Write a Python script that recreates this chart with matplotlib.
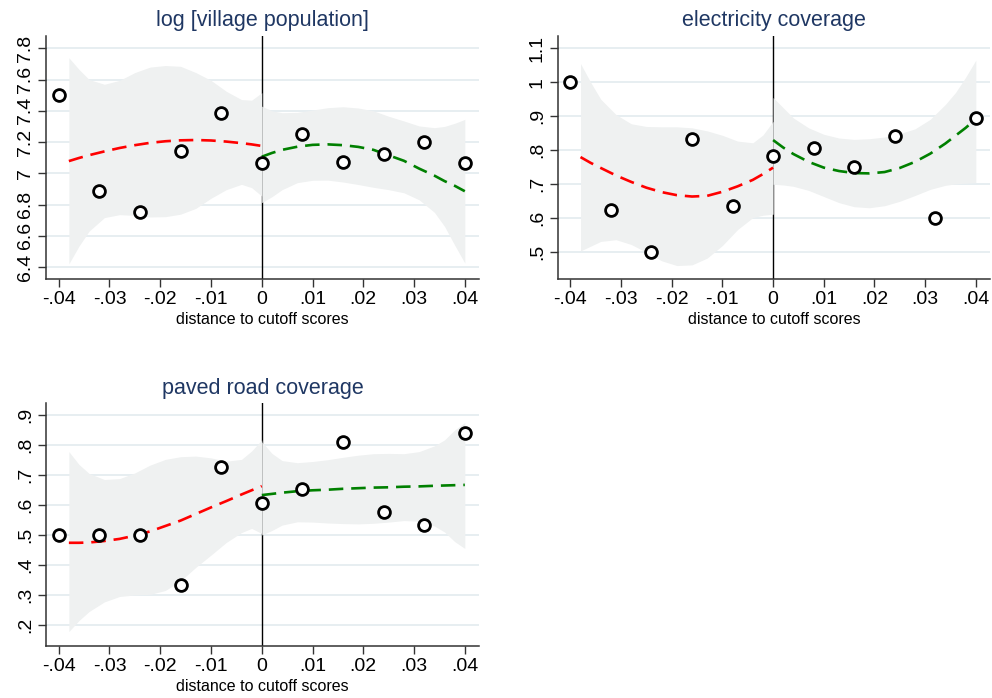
import matplotlib
matplotlib.use("Agg")
import matplotlib.pyplot as plt

plt.rcParams['font.family'] = ['Liberation Sans', 'DejaVu Sans']

# binned means
x_bins = [-0.04, -0.032, -0.024, -0.016, -0.008, 0.0, 0.008, 0.016, 0.024, 0.032, 0.04]
pop_means = [7.50, 6.887, 6.752, 7.145, 7.386, 7.064, 7.253, 7.074, 7.125, 7.198, 7.064]
elec_means = [1.0, 0.625, 0.5, 0.833, 0.637, 0.782, 0.808, 0.75, 0.842, 0.6, 0.895]
road_means = [0.5, 0.5, 0.5, 0.333, 0.726, 0.608, 0.653, 0.811, 0.578, 0.532, 0.841]

# x positions of fitted curves / bands (left and right of cutoff)
xl = [-0.038, -0.036, -0.034, -0.031, -0.028, -0.025, -0.022, -0.019, -0.016,
      -0.013, -0.010, -0.007, -0.004, -0.002, 0.0]
xr = [0.0, 0.002, 0.004, 0.007, 0.010, 0.013, 0.016, 0.019, 0.022, 0.025,
      0.028, 0.031, 0.034, 0.036, 0.038, 0.040]

# log village population
pop_fit_l = [7.078, 7.098, 7.116, 7.14, 7.162, 7.18, 7.195, 7.205, 7.211, 7.213, 7.21, 7.203, 7.193, 7.185, 7.175]
pop_hi_l = [7.74, 7.665, 7.60, 7.57, 7.595, 7.645, 7.68, 7.69, 7.685, 7.645, 7.595, 7.525, 7.472, 7.468, 7.516]
pop_lo_l = [6.42, 6.534, 6.63, 6.716, 6.735, 6.73, 6.72, 6.722, 6.738, 6.775, 6.84, 6.895, 6.929, 6.908, 6.854]
pop_fit_r = [7.106, 7.13, 7.15, 7.17, 7.182, 7.185, 7.18, 7.169, 7.15, 7.115, 7.08, 7.03, 6.985, 6.95, 6.92, 6.885]
pop_hi_r = [7.43, 7.40, 7.388, 7.39, 7.405, 7.42, 7.426, 7.418, 7.40, 7.365, 7.335, 7.303, 7.292, 7.30, 7.32, 7.345]
pop_lo_r = [6.812, 6.85, 6.895, 6.94, 6.955, 6.956, 6.944, 6.928, 6.91, 6.895, 6.875, 6.83, 6.75, 6.66, 6.54, 6.425]

# electricity coverage
elec_fit_l = [0.78, 0.763, 0.748, 0.726, 0.707, 0.69, 0.677, 0.668, 0.664, 0.666, 0.678, 0.694, 0.713, 0.73, 0.749]
elec_hi_l = [1.055, 1.00, 0.95, 0.905, 0.878, 0.87, 0.869, 0.869, 0.866, 0.857, 0.844, 0.827, 0.822, 0.845, 0.885]
elec_lo_l = [0.504, 0.518, 0.532, 0.537, 0.523, 0.50, 0.475, 0.461, 0.463, 0.483, 0.52, 0.567, 0.602, 0.609, 0.612]
elec_fit_r = [0.83, 0.808, 0.789, 0.766, 0.749, 0.739, 0.733, 0.732, 0.736, 0.748, 0.766, 0.79, 0.82, 0.843, 0.866, 0.892]
elec_hi_r = [0.955, 0.925, 0.895, 0.866, 0.847, 0.836, 0.832, 0.834, 0.839, 0.849, 0.863, 0.891, 0.935, 0.97, 1.015, 1.065]
elec_lo_r = [0.70, 0.698, 0.694, 0.682, 0.664, 0.646, 0.634, 0.631, 0.637, 0.65, 0.667, 0.685, 0.697, 0.701, 0.703, 0.705]

# paved road coverage
road_fit_l = [0.474, 0.474, 0.475, 0.48, 0.487, 0.498, 0.512, 0.53, 0.548, 0.57, 0.592, 0.613, 0.635, 0.649, 0.663]
road_hi_l = [0.778, 0.735, 0.705, 0.685, 0.688, 0.707, 0.733, 0.752, 0.761, 0.763, 0.757, 0.746, 0.752, 0.78, 0.817]
road_lo_l = [0.178, 0.215, 0.245, 0.277, 0.295, 0.30, 0.302, 0.315, 0.347, 0.392, 0.433, 0.475, 0.508, 0.522, 0.505]
road_fit_r = [0.633, 0.637, 0.641, 0.646, 0.649, 0.651, 0.654, 0.656, 0.658, 0.659, 0.661, 0.662, 0.664, 0.665, 0.666, 0.667]
road_hi_r = [0.811, 0.772, 0.748, 0.741, 0.745, 0.751, 0.759, 0.766, 0.771, 0.772, 0.771, 0.778, 0.797, 0.817, 0.85, 0.875]
road_lo_r = [0.50, 0.515, 0.533, 0.544, 0.543, 0.54, 0.538, 0.537, 0.539, 0.543, 0.548, 0.546, 0.53, 0.51, 0.478, 0.455]

x_ticks = [-0.04, -0.03, -0.02, -0.01, 0.0, 0.01, 0.02, 0.03, 0.04]
x_ticklabels = ['-.04', '-.03', '-.02', '-.01', '0', '.01', '.02', '.03', '.04']

pop_ticks = [6.4, 6.6, 6.8, 7.0, 7.2, 7.4, 7.6, 7.8]
pop_ticklabels = ['6.4', '6.6', '6.8', '7', '7.2', '7.4', '7.6', '7.8']
elec_ticks = [0.5, 0.6, 0.7, 0.8, 0.9, 1.0, 1.1]
elec_ticklabels = ['.5', '.6', '.7', '.8', '.9', '1', '1.1']
road_ticks = [0.2, 0.3, 0.4, 0.5, 0.6, 0.7, 0.8, 0.9]
road_ticklabels = ['.2', '.3', '.4', '.5', '.6', '.7', '.8', '.9']

title_col = '#1f3763'
band_col = '#eff1f1'
grid_col = '#e5edf0'


def panel(ax, title, means, fit_l, hi_l, lo_l, fit_r, hi_r, lo_r, yticks, ylabels, ylim):
    for t in yticks:
        ax.axhline(t, color=grid_col, lw=1.3, zorder=0)
    ax.axvline(0, color='black', lw=1.0, zorder=1)
    ax.fill_between(xl, lo_l, hi_l, color=band_col, lw=0, zorder=2)
    ax.fill_between(xr, lo_r, hi_r, color=band_col, lw=0, zorder=2)
    ax.plot(xl, fit_l, color='#ff0000', lw=1.9, dashes=(5.5, 3.0), zorder=3)
    ax.plot(xr, fit_r, color='#008000', lw=1.9, dashes=(5.5, 3.0), zorder=3)
    ax.plot(x_bins, means, 'o', mfc='white', mec='black', mew=2.0, ms=8.5,
            zorder=4, clip_on=False)
    ax.set_xlim(-0.0425, 0.0428)
    ax.set_ylim(*ylim)
    ax.set_xticks(x_ticks)
    ax.set_xticklabels(x_ticklabels)
    ax.set_yticks(yticks)
    ax.set_yticklabels(ylabels, rotation=90, va='center')
    ax.tick_params(axis='both', labelsize=14, length=5.5, width=1.0,
                   color='#333333', pad=3)
    ax.spines['top'].set_visible(False)
    ax.spines['right'].set_visible(False)
    for s in ('left', 'bottom'):
        ax.spines[s].set_color('#333333')
        ax.spines[s].set_linewidth(1.1)
    ax.set_xlabel('distance to cutoff scores', fontsize=11.5, labelpad=3)
    ax.set_title(title, fontsize=15.5, color=title_col, pad=7)


fig = plt.figure(figsize=(9.92, 6.98), dpi=100)
ax1 = fig.add_axes([0.0464, 0.6003, 0.4365, 0.3481])
ax2 = fig.add_axes([0.5622, 0.6003, 0.4358, 0.3481])
ax3 = fig.add_axes([0.0464, 0.0741, 0.4365, 0.3481])

panel(ax1, 'log [village population]', pop_means, pop_fit_l, pop_hi_l, pop_lo_l,
      pop_fit_r, pop_hi_r, pop_lo_r, pop_ticks, pop_ticklabels, (6.323, 7.879))
panel(ax2, 'electricity coverage', elec_means, elec_fit_l, elec_hi_l, elec_lo_l,
      elec_fit_r, elec_hi_r, elec_lo_r, elec_ticks, elec_ticklabels, (0.4215, 1.136))
panel(ax3, 'paved road coverage', road_means, road_fit_l, road_hi_l, road_lo_l,
      road_fit_r, road_hi_r, road_lo_r, road_ticks, road_ticklabels, (0.129, 0.939))

fig.savefig('out.png', dpi=100)
